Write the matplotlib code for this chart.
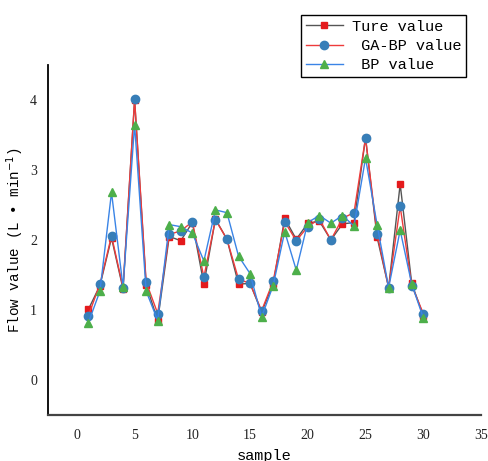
import numpy as np
import matplotlib
matplotlib.use('Agg')
import matplotlib.pyplot as plt

# values
samples = np.arange(1, 31)
true_vals = [1.01, 1.35, 2.03, 1.30, 4.00, 1.36, 0.85, 2.05, 1.99, 2.25,
             1.37, 2.30, 2.01, 1.37, 1.38, 0.97, 1.37, 2.31, 2.01, 2.24,
             2.27, 2.00, 2.23, 2.25, 3.46, 2.04, 1.32, 2.80, 1.38, 0.92]
gabp_vals = [0.92, 1.37, 2.06, 1.32, 4.01, 1.40, 0.95, 2.08, 2.13, 2.26,
             1.47, 2.29, 2.01, 1.44, 1.38, 0.99, 1.41, 2.26, 1.99, 2.19,
             2.30, 2.00, 2.31, 2.39, 3.46, 2.09, 1.32, 2.48, 1.35, 0.95]
bp_vals = [0.82, 1.27, 2.68, 1.33, 3.65, 1.27, 0.85, 2.22, 2.19, 2.10,
           1.70, 2.43, 2.39, 1.77, 1.52, 0.90, 1.35, 2.12, 1.57, 2.25,
           2.35, 2.24, 2.35, 2.20, 3.17, 2.22, 1.32, 2.14, 1.37, 0.89]

xticks = [0, 5, 10, 15, 20, 25, 30, 35]
yticks = [0, 1, 2, 3, 4]

txt_font = 'Liberation Mono'
num_font = 'Liberation Serif'

fig = plt.figure(figsize=(4.89, 4.61), dpi=100)
ax = fig.add_axes([48/489, 46/461, 433/489, 350/461])

ax.plot(samples, true_vals, color='#555555', lw=1.0, marker='s', ms=5,
        mfc='#e41a1c', mec='#e41a1c', label='Ture value')
ax.plot(samples, gabp_vals, color='#ee3b3b', lw=1.0, marker='o', ms=6,
        mfc='#377eb8', mec='#377eb8', label=' GA-BP value')
ax.plot(samples, bp_vals, color='#3a84e6', lw=1.0, marker='^', ms=6,
        mfc='#4daf4a', mec='#4daf4a', label=' BP value')

ax.set_xlim(-2.5, 35)
ax.set_ylim(-0.5, 4.5)
ax.set_xticks(xticks)
ax.set_yticks(yticks)
ax.tick_params(length=0, labelsize=10)
ax.tick_params(axis='x', pad=10)
ax.tick_params(axis='y', pad=8)
for lab in ax.get_xticklabels() + ax.get_yticklabels():
    lab.set_fontfamily(num_font)
    lab.set_color('#222222')

for s in ['top', 'right']:
    ax.spines[s].set_visible(False)
ax.spines['left'].set_color('black')
ax.spines['left'].set_linewidth(1.3)
ax.spines['bottom'].set_color('#444444')
ax.spines['bottom'].set_linewidth(1.6)

ax.set_xlabel('sample', fontfamily=txt_font, fontsize=11, labelpad=5)
ax.set_ylabel('Flow value (L \u2022 min$^{-1}$)', fontfamily=txt_font,
              fontsize=10.3, labelpad=3)

leg = ax.legend(loc='upper right', bbox_to_anchor=(466/489, 1 - 15/461),
                bbox_transform=fig.transFigure, borderaxespad=0,
                fancybox=False, edgecolor='black', framealpha=1,
                prop={'family': txt_font, 'size': 11},
                labelspacing=0.35, handlelength=2.4, handletextpad=0.6,
                borderpad=0.3)
leg.get_frame().set_linewidth(1.0)

fig.savefig('out.png', dpi=100)
